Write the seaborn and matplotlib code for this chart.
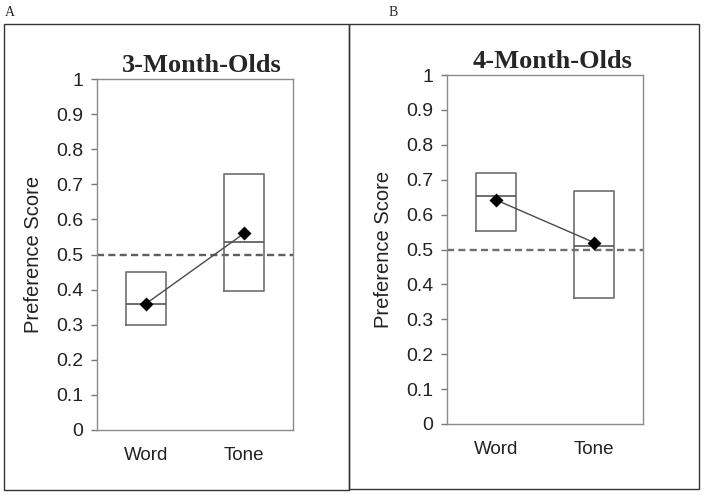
import matplotlib
matplotlib.use("Agg")
import matplotlib.pyplot as plt
import seaborn as sns
from matplotlib.patches import Rectangle

# data
conditions = ["Word", "Tone"]
panel_titles = ["3-Month-Olds", "4-Month-Olds"]
panel_letters = ["A", "B"]

q1_3mo = [0.30, 0.395]
median_3mo = [0.358, 0.535]
q3_3mo = [0.45, 0.728]
mean_3mo = [0.36, 0.56]

q1_4mo = [0.553, 0.36]
median_4mo = [0.652, 0.51]
q3_4mo = [0.72, 0.668]
mean_4mo = [0.642, 0.52]

yticks = [0, 0.1, 0.2, 0.3, 0.4, 0.5, 0.6, 0.7, 0.8, 0.9, 1]
ytick_labels = ["0", "0.1", "0.2", "0.3", "0.4", "0.5", "0.6", "0.7", "0.8", "0.9", "1"]
chance = 0.5

sns.set_style("white")
plt.rcParams["font.family"] = ["Liberation Sans", "DejaVu Sans"]

W, H = 704, 495


def fig_rect(x0, y0, x1, y1):
    # pixel box (top-left origin) -> figure fraction [left, bottom, width, height]
    return [x0 / W, 1 - y1 / H, (x1 - x0) / W, (y1 - y0) / H]


def draw_panel(ax, q1, med, q3, means, dash_color):
    stats = []
    for name, a, m, b in zip(conditions, q1, med, q3):
        stats.append(dict(label=name, q1=a, med=m, q3=b, whislo=a, whishi=b, fliers=[]))
    ax.bxp(stats, positions=list(range(len(conditions))), widths=0.4,
           showcaps=False, showfliers=False,
           boxprops=dict(color="#6e6e6e", linewidth=1.2),
           medianprops=dict(color="#555555", linewidth=1.2),
           whiskerprops=dict(linewidth=0))
    ax.axhline(chance, color=dash_color, linewidth=1.7, dashes=(3.0, 1.8), zorder=1)

    sns.pointplot(x=conditions, y=means, color="#4a4a4a", markers="", linewidth=1,
                  errorbar=None, ax=ax, zorder=3)
    sns.pointplot(x=conditions, y=means, color="black", markers="D", markersize=5.5,
                  linestyle="none", errorbar=None, ax=ax, zorder=4)

    ax.set_xlim(-0.5, len(conditions) - 0.5)
    ax.set_ylim(0, 1)
    ax.set_yticks(yticks)
    ax.set_yticklabels(ytick_labels)
    ax.set_xticks(list(range(len(conditions))))
    ax.set_xticklabels(conditions)
    ax.set_xticks([-0.5, 0.5, 1.5], minor=True)
    ax.tick_params(axis="x", which="major", length=0, pad=12, labelsize=13.5, colors="#222222")
    ax.tick_params(axis="x", which="minor", length=4, width=1, color="#777777", direction="out")
    ax.tick_params(axis="y", which="major", left=True, length=4, width=1, color="#777777",
                   direction="out", pad=6, labelsize=14, labelcolor="#222222")
    ax.set_xlabel("")
    ax.set_ylabel("Preference Score", fontsize=14.5, color="#222222", labelpad=9)
    for s in ax.spines.values():
        s.set_visible(True)
        s.set_color("#8a8a8a")
        s.set_linewidth(1)


fig = plt.figure(figsize=(7.04, 4.95), dpi=100)

ax_a = fig.add_axes(fig_rect(97, 79, 293, 430))
draw_panel(ax_a, q1_3mo, median_3mo, q3_3mo, mean_3mo, "#5e5e5e")

ax_b = fig.add_axes(fig_rect(447, 75, 643, 424))
draw_panel(ax_b, q1_4mo, median_4mo, q3_4mo, mean_4mo, "#6e6e6e")

# panel frames
for (x0, y0, x1, y1) in [(4, 24, 349, 490), (349, 24, 699, 489)]:
    l, b, w, h = fig_rect(x0, y0, x1, y1)
    fig.add_artist(Rectangle((l, b), w, h, transform=fig.transFigure,
                             fill=False, edgecolor="#333333", linewidth=1))

# titles
fig.text(202 / W, 1 - 65 / H, panel_titles[0], ha="center", va="center",
         family="Liberation Serif", weight="bold", fontsize=19)
fig.text(553 / W, 1 - 61 / H, panel_titles[1], ha="center", va="center",
         family="Liberation Serif", weight="bold", fontsize=19)

# panel letters
fig.text(10 / W, 1 - 12 / H, panel_letters[0], ha="center", va="center",
         family="Liberation Serif", fontsize=10)
fig.text(393 / W, 1 - 12 / H, panel_letters[1], ha="center", va="center",
         family="Liberation Serif", fontsize=10)

fig.savefig("out.png", dpi=100, facecolor="white")
